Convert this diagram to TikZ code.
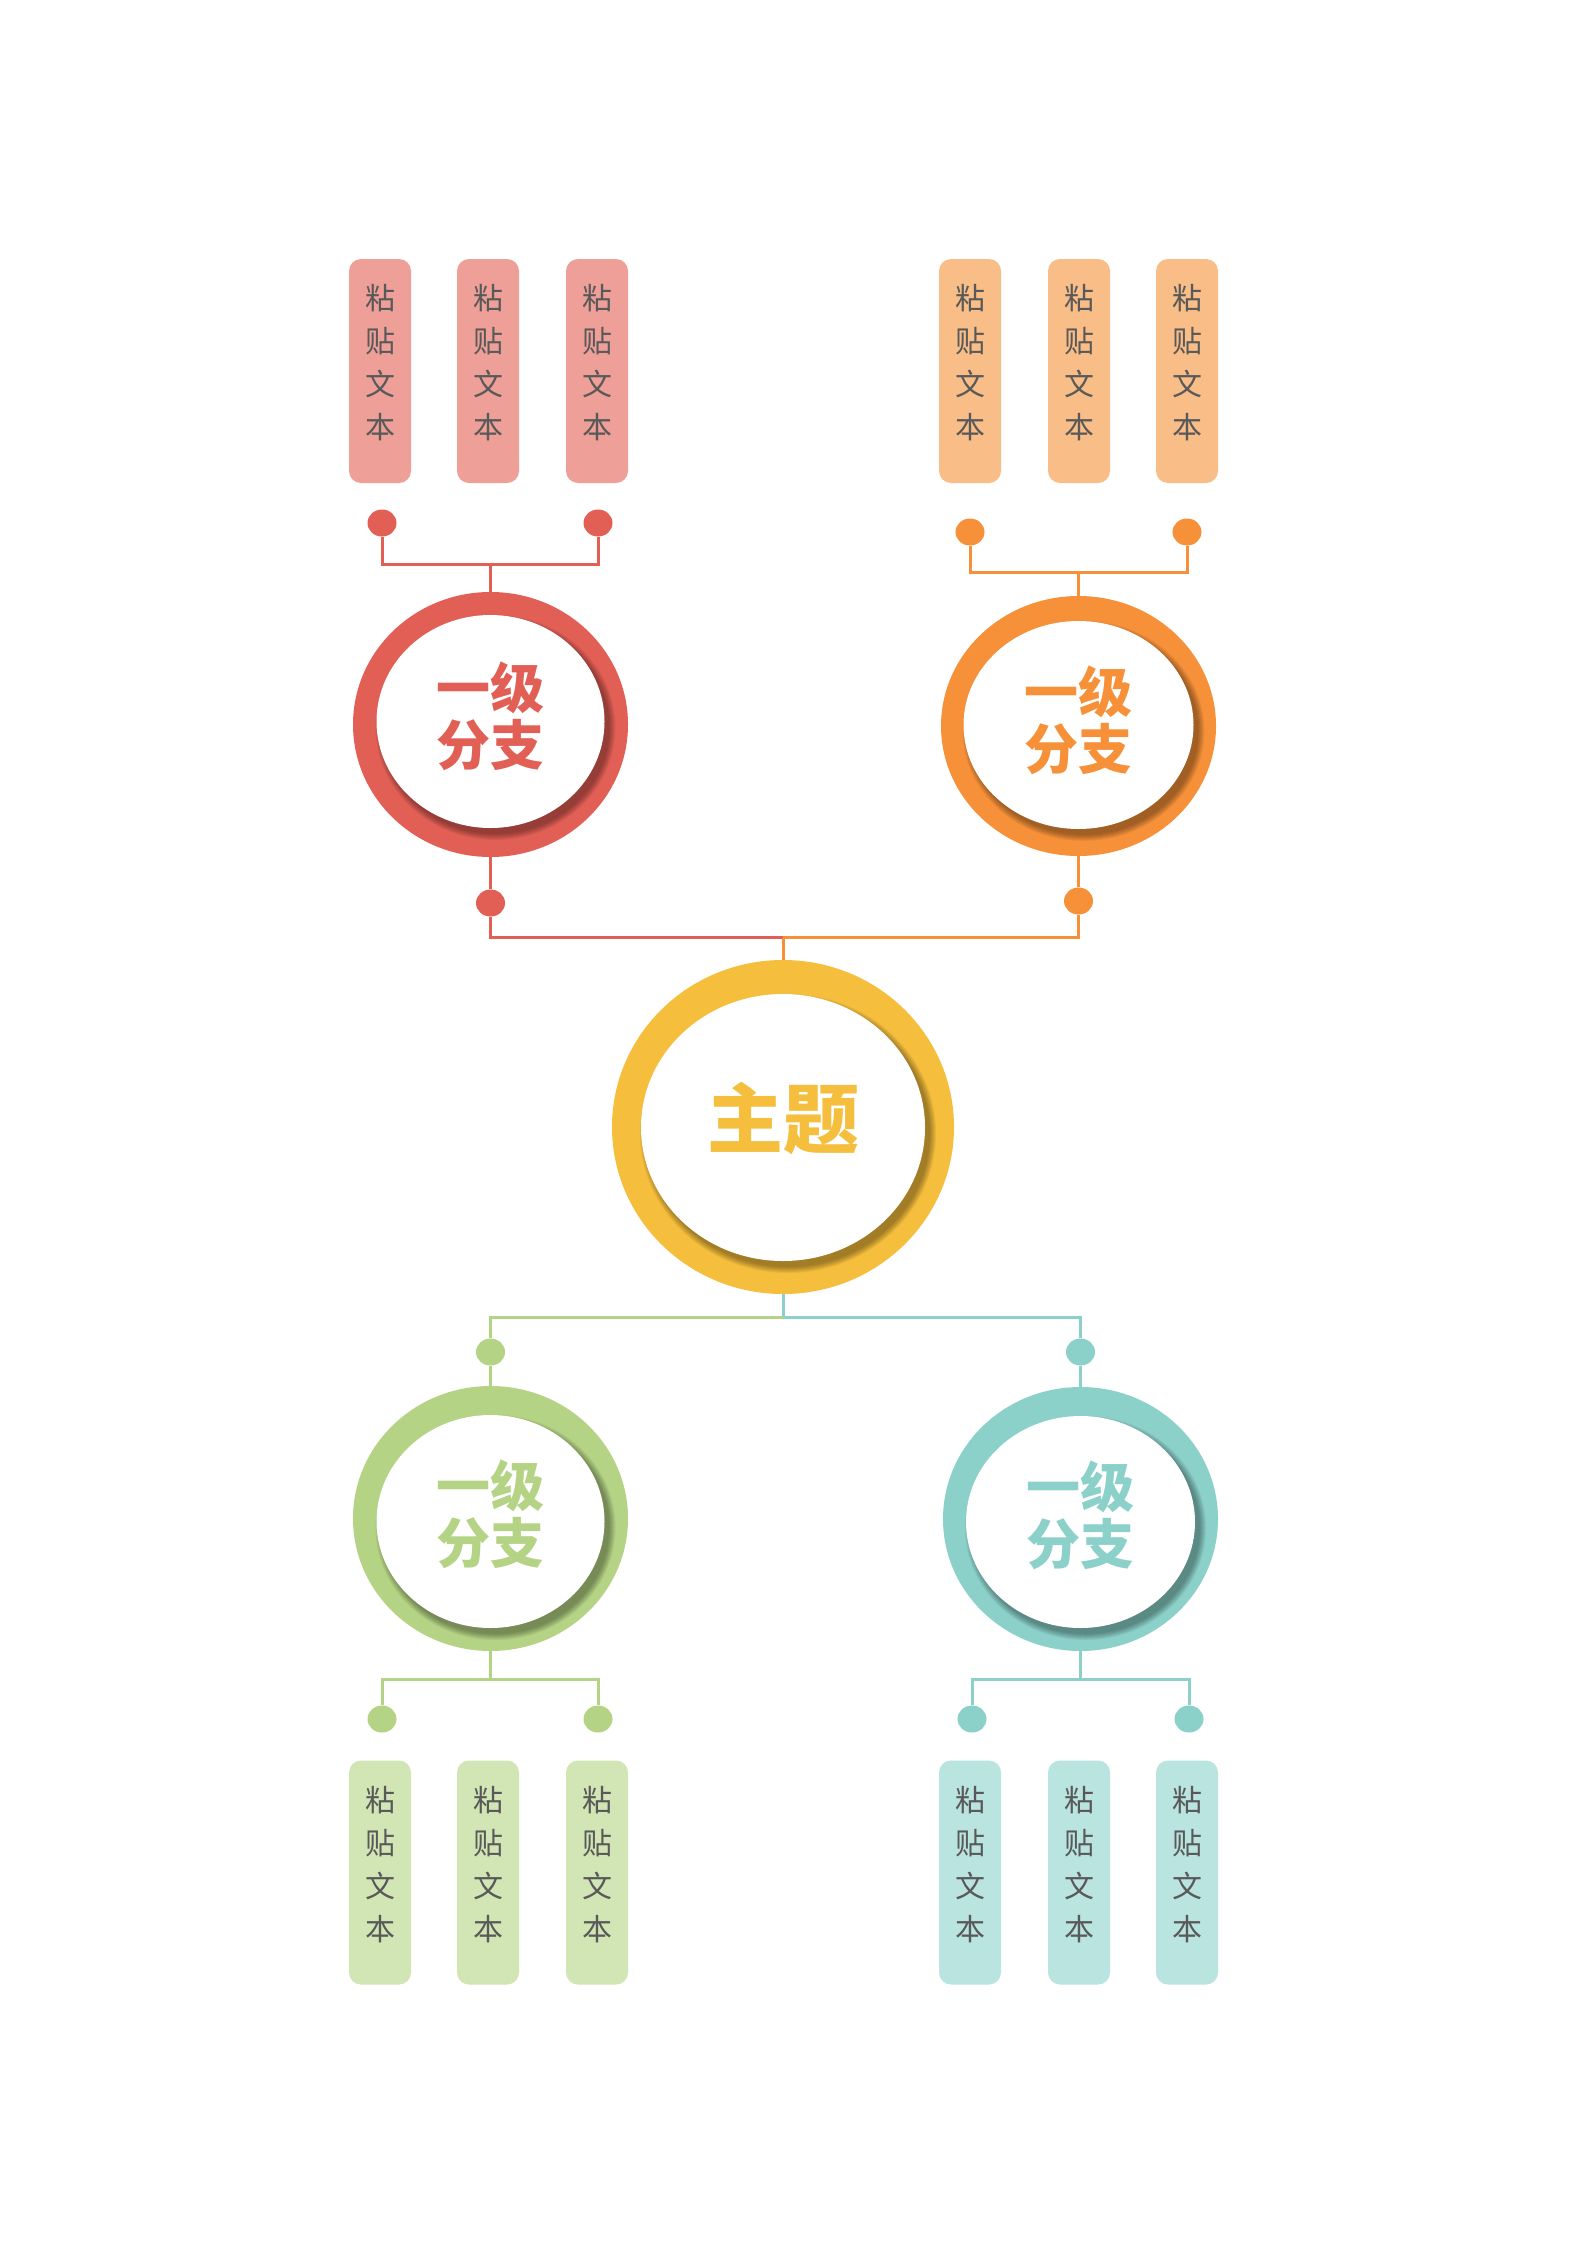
\documentclass[tikz,border=0pt]{standalone}
\usepackage{fontspec}
\newfontfamily\cjk{Noto Sans CJK SC}
\usetikzlibrary{shapes.geometric}
\definecolor{cR}{HTML}{E25F55}
\definecolor{cRb}{HTML}{EE9F98}
\definecolor{cO}{HTML}{F6913A}
\definecolor{cOb}{HTML}{F9BD87}
\definecolor{cY}{HTML}{F5BE3D}
\definecolor{cG}{HTML}{B4D384}
\definecolor{cGb}{HTML}{D2E6B5}
\definecolor{cT}{HTML}{8BD0C9}
\definecolor{cTb}{HTML}{B9E4DF}
\definecolor{txtgray}{HTML}{595959}
\tikzset{
  conn/.style={line width=3pt},
  dotmark/.style={ellipse, minimum width=29pt, minimum height=27pt, inner sep=0pt, draw=none},
  pastebox/.style={rectangle, rounded corners=12pt, minimum width=62pt, minimum height=224pt, inner sep=0pt, draw=none},
  boxtext/.style={font=\cjk\fontsize{30}{43}\selectfont, text=txtgray, align=center, inner sep=0pt},
  ring/.style={ellipse, inner sep=0pt, draw=none},
  hub/.style={ellipse, fill=white, inner sep=0pt, draw=none},
  branchtext/.style={font=\cjk\bfseries\fontsize{54}{57}\selectfont, align=center, inner sep=0pt},
  maintext/.style={font=\cjk\bfseries\fontsize{76}{76}\selectfont, inner sep=0pt},
}
% #1 name, #2 colour, #3 outer centre x,y, #4 outer rx, #5 outer ry, #6 inner centre x,y, #7 inner rx, #8 inner ry
\newcommand\branchring[8]{%
  \node[ring, fill=#2, minimum width={2*#4}, minimum height={2*#5}] (#1) at (#3) {};
  \foreach \k in {0,...,6}{
    \fill[black, opacity=0.055] ([shift={(5,6)}]#6) ellipse [x radius={#7+\k}, y radius={#8+\k}];
  }
  \node[hub, minimum width={2*#7}, minimum height={2*#8}] (#1in) at (#6) {};
}
% #1 name, #2 fill, #3 x, #4 y
\newcommand\pastecol[4]{%
  \node[pastebox, fill=#2] (#1) at (#3,#4) {};
  \node[boxtext] (#1t) at (#3,#4-8) {粘\\贴\\文\\本};
}
\begin{document}
\begin{tikzpicture}[x=1pt,y=-1pt]
\fill[white] (0,0) rectangle (1587,2245);
\useasboundingbox (0,0) rectangle (1587,2245);

% ---------- paste boxes ----------
\pastecol{rb1}{cRb}{380}{371}
\pastecol{rb2}{cRb}{488}{371}
\pastecol{rb3}{cRb}{597}{371}
\pastecol{ob1}{cOb}{970}{371}
\pastecol{ob2}{cOb}{1079}{371}
\pastecol{ob3}{cOb}{1187}{371}
\pastecol{gb1}{cGb}{380}{1872.5}
\pastecol{gb2}{cGb}{488}{1872.5}
\pastecol{gb3}{cGb}{597}{1872.5}
\pastecol{tb1}{cTb}{970}{1872.5}
\pastecol{tb2}{cTb}{1079}{1872.5}
\pastecol{tb3}{cTb}{1187}{1872.5}

% ---------- rings ----------
\branchring{rR}{cR}{490.5,724.5}{137.5}{132.5}{490.5,721.5}{114}{106.5}
\branchring{oR}{cO}{1078.5,726}{137.5}{130}{1078.5,725}{115}{104}
\branchring{yR}{cY}{783,1127}{171}{167}{783,1127.5}{142}{133.5}
\branchring{gR}{cG}{490.5,1518.5}{137.5}{132.5}{490.5,1521.5}{114}{106.5}
\branchring{tR}{cT}{1080.5,1519}{137.5}{132}{1080.5,1522}{114.5}{106}

\node[branchtext, text=cR] (rRt) at (490,716) {一级\\分支};
\node[branchtext, text=cO] (oRt) at (1078,720) {一级\\分支};
\node[maintext, text=cY] (yRt) at (783.5,1118) {主题};
\node[branchtext, text=cG] (gRt) at (490,1514) {一级\\分支};
\node[branchtext, text=cT] (tRt) at (1080.5,1515) {一级\\分支};

% ---------- dots ----------
\node[dotmark, fill=cR] (rd1) at (382,523) {};
\node[dotmark, fill=cR] (rd3) at (598,523) {};
\node[dotmark, fill=cO] (od1) at (970,532) {};
\node[dotmark, fill=cO] (od3) at (1187,532) {};
\node[dotmark, fill=cR] (rdb) at (490.5,903) {};
\node[dotmark, fill=cO] (odb) at (1078.5,901) {};
\node[dotmark, fill=cG] (gdt) at (490.5,1352) {};
\node[dotmark, fill=cT] (tdt) at (1080.5,1352) {};
\node[dotmark, fill=cG] (gd1) at (382,1719) {};
\node[dotmark, fill=cG] (gd3) at (598,1719) {};
\node[dotmark, fill=cT] (td1) at (972,1719) {};
\node[dotmark, fill=cT] (td3) at (1189,1719) {};

% ---------- junctions ----------
\coordinate (rj) at (490.5,564);
\coordinate (oj) at (1078.5,572);
\coordinate (tj) at (783,937.5);
\coordinate (bj) at (783,1317);
\coordinate (gj) at (490.5,1679);
\coordinate (tj2) at (1080.5,1679);

% ---------- connectors ----------
\draw[conn, cR] (rd1) |- (rj) -| (rd3);
\draw[conn, cR] (rj) -- (rR);
\draw[conn, cO] (od1) |- (oj) -| (od3);
\draw[conn, cO] (oj) -- (oR);

\draw[conn, cR] (rR) -- (rdb);
\draw[conn, cR] (rdb) |- (tj);
\draw[conn, cO] (oR) -- (odb);
\draw[conn, cO] (odb) |- (tj);
\draw[conn, cO] (tj) -- (yR);

\draw[conn, cT] (yR) -- (bj);
\draw[conn, cG] (bj) -| (gdt);
\draw[conn, cG] (gdt) -- (gR);
\draw[conn, cT] (bj) -| (tdt);
\draw[conn, cT] (tdt) -- (tR);

\draw[conn, cG] (gR) -- (gj);
\draw[conn, cG] (gd1) |- (gj) -| (gd3);
\draw[conn, cT] (tR) -- (tj2);
\draw[conn, cT] (td1) |- (tj2) -| (td3);
\end{tikzpicture}
\end{document}
